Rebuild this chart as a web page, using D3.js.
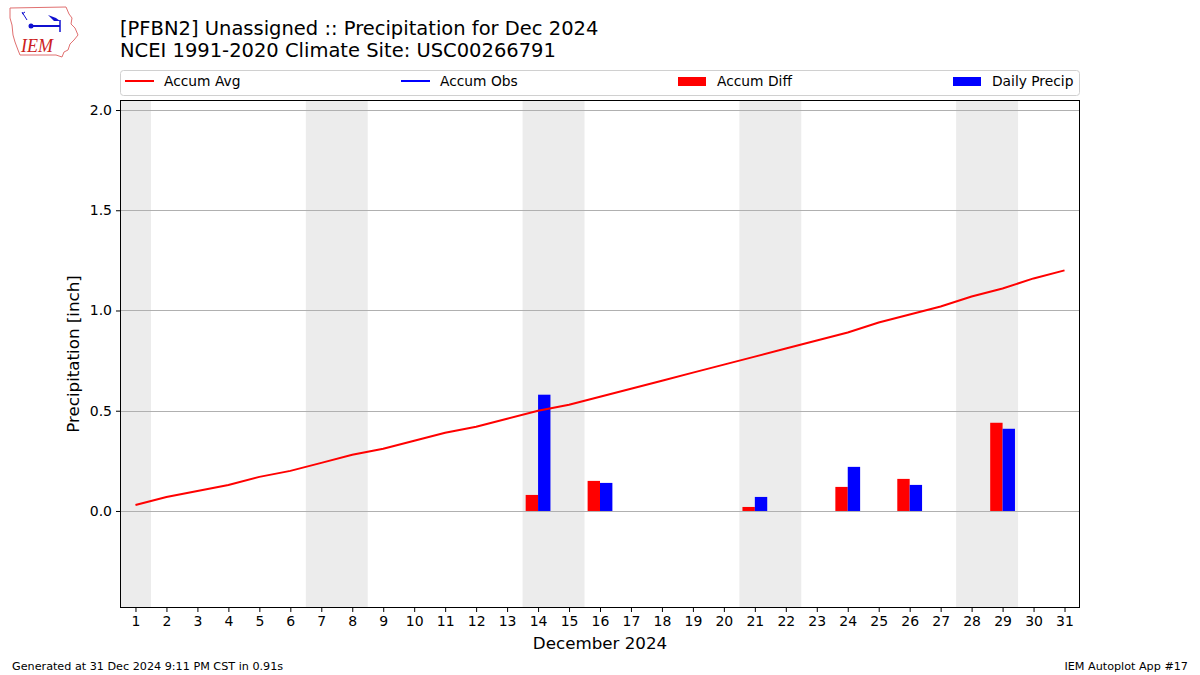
<!DOCTYPE html>
<html><head><meta charset="utf-8">
<script src="https://cdn.jsdelivr.net/npm/d3@7"></script>
<style>body{margin:0;background:#fff}svg{display:block;font-family:"DejaVu Sans",sans-serif}</style>
</head><body><svg id="c" width="1200" height="675"></svg>
<script>
const days = d3.range(1, 32);
const accumAvg = [0.03,0.07,0.10,0.13,0.17,0.20,0.24,0.28,0.31,0.35,0.39,0.42,0.46,0.50,0.53,0.57,0.61,0.65,0.69,0.73,0.77,0.81,0.85,0.89,0.94,0.98,1.02,1.07,1.11,1.16,1.20];
const barDays = [14,16,21,24,26,29];
const accumDiff = [0.08,0.15,0.02,0.12,0.16,0.44];
const dailyPrecip = [0.58,0.14,0.07,0.22,0.13,0.41];
const weekendDays = [1,7,8,14,15,21,22,28,29];
const yTicks = [0.0,0.5,1.0,1.5,2.0];

const svg = d3.select("#c");
const L=120,R=1080,T=100,B=608;
const x = d3.scaleLinear().domain([0.5,31.5]).range([L,R]);
const y = d3.scaleLinear().domain([-0.484,2.05]).range([B,T]);

// weekend shading (merge consecutive days)
const spans = [];
weekendDays.forEach(d=>{
  const last = spans[spans.length-1];
  if(last && last[1]===d-1) last[1]=d; else spans.push([d,d]);
});
svg.append("g").selectAll("rect").data(spans).join("rect")
  .attr("x",d=>x(d[0]-0.5)).attr("width",d=>x(d[1]+0.5)-x(d[0]-0.5))
  .attr("y",T).attr("height",B-T).attr("fill","#ececec");

// grid
svg.append("g").selectAll("line").data(yTicks).join("line")
  .attr("x1",L).attr("x2",R).attr("y1",d=>Math.round(y(d))+0.5).attr("y2",d=>Math.round(y(d))+0.5)
  .attr("stroke","#b0b0b0").attr("stroke-width",1);

// bars
const bw = 0.4;
svg.append("g").selectAll("rect").data(barDays).join("rect")
  .attr("x",d=>x(d-bw)).attr("width",d=>x(d)-x(d-bw))
  .attr("y",(d,i)=>y(accumDiff[i])).attr("height",(d,i)=>y(0)-y(accumDiff[i]))
  .attr("fill","#ff0000");
svg.append("g").selectAll("rect").data(barDays).join("rect")
  .attr("x",d=>x(d)).attr("width",d=>x(d+bw)-x(d))
  .attr("y",(d,i)=>y(dailyPrecip[i])).attr("height",(d,i)=>y(0)-y(dailyPrecip[i]))
  .attr("fill","#0000ff");

// avg line
svg.append("path").datum(days.map((d,i)=>[d,accumAvg[i]]))
  .attr("d",d3.line().x(d=>x(d[0])).y(d=>y(d[1])))
  .attr("fill","none").attr("stroke","#ff0000").attr("stroke-width",2);

// frame
svg.append("rect").attr("x",L+0.5).attr("y",T+0.5).attr("width",R-L-1).attr("height",B-T-1)
  .attr("fill","none").attr("stroke","#000").attr("stroke-width",1);

// axes
const xa = svg.append("g").attr("transform",`translate(0,${B})`)
  .call(d3.axisBottom(x).tickValues(days).tickFormat(d3.format("d")).tickSize(4).tickPadding(4));
const ya = svg.append("g").attr("transform",`translate(${L},0)`)
  .call(d3.axisLeft(y).tickValues(yTicks).tickFormat(d3.format(".1f")).tickSize(4).tickPadding(4));
[xa,ya].forEach(a=>{a.select(".domain").remove();a.selectAll("text").attr("font-size",14).attr("fill","#000").attr("font-family","DejaVu Sans");a.selectAll("line").attr("stroke","#000");});

svg.append("text").attr("x",(L+R)/2).attr("y",649).attr("text-anchor","middle").attr("font-size",16.7).text("December 2024");
svg.append("text").attr("transform",`translate(79,${(T+B)/2}) rotate(-90)`).attr("text-anchor","middle").attr("font-size",16.7).text("Precipitation [inch]");

// title
svg.append("text").attr("x",120).attr("y",35).attr("font-size",19.5).text("[PFBN2] Unassigned :: Precipitation for Dec 2024");
svg.append("text").attr("x",120).attr("y",57).attr("font-size",19.5).text("NCEI 1991-2020 Climate Site: USC00266791");

// legend
svg.append("rect").attr("x",120.5).attr("y",70.5).attr("width",959).attr("height",25).attr("rx",3)
  .attr("fill","#fff").attr("stroke","#d0d0d0");
const legendItems = [
  {label:"Accum Avg",type:"line",color:"#ff0000",x:125},
  {label:"Accum Obs",type:"line",color:"#0000ff",x:401},
  {label:"Accum Diff",type:"rect",color:"#ff0000",x:678},
  {label:"Daily Precip",type:"rect",color:"#0000ff",x:953}
];
legendItems.forEach(it=>{
  if(it.type==="line") svg.append("line").attr("x1",it.x).attr("x2",it.x+29).attr("y1",81).attr("y2",81).attr("stroke",it.color).attr("stroke-width",2);
  else svg.append("rect").attr("x",it.x).attr("y",77).attr("width",28).attr("height",9).attr("fill",it.color);
  svg.append("text").attr("x",it.x+39).attr("y",86).attr("font-size",13.8).text(it.label);
});

// footer
svg.append("text").attr("x",12).attr("y",670).attr("font-size",11.2).text("Generated at 31 Dec 2024 9:11 PM CST in 0.91s");
svg.append("text").attr("x",1188).attr("y",670).attr("text-anchor","end").attr("font-size",11.2).text("IEM Autoplot App #17");

// logo
const lg = svg.append("g");
lg.append("path").attr("d","M10,8 L66,7 L69,14 L72,18 L71,24 L75,28 L78,35 L74,40 L70,44 L68,50 L64,52 L62,57 L56,55 L20,55 L18,50 L15,42 L13,35 L12,25 L10,18 Z")
  .attr("fill","#fff").attr("stroke","#e07070").attr("stroke-width",1);
lg.append("line").attr("x1",31).attr("y1",26).attr("x2",60).attr("y2",26).attr("stroke","#1010d0").attr("stroke-width",2);
lg.append("circle").attr("cx",31).attr("cy",26).attr("r",2.5).attr("fill","#1010d0");
lg.append("path").attr("d","M48,15 L56,18 L60,21 L54,21 Z").attr("fill","#1010d0");
lg.append("line").attr("x1",60).attr("y1",20).attr("x2",60).attr("y2",32).attr("stroke","#1010d0").attr("stroke-width",1.5);
lg.append("path").attr("d","M22,12 L27,20 M22,14 L25,12").attr("stroke","#1010d0").attr("fill","none");
lg.append("text").attr("x",21).attr("y",52).attr("font-family","Liberation Serif,serif").attr("font-style","italic").attr("font-size",18).attr("fill","#cc2020").text("IEM");
</script></body></html>
